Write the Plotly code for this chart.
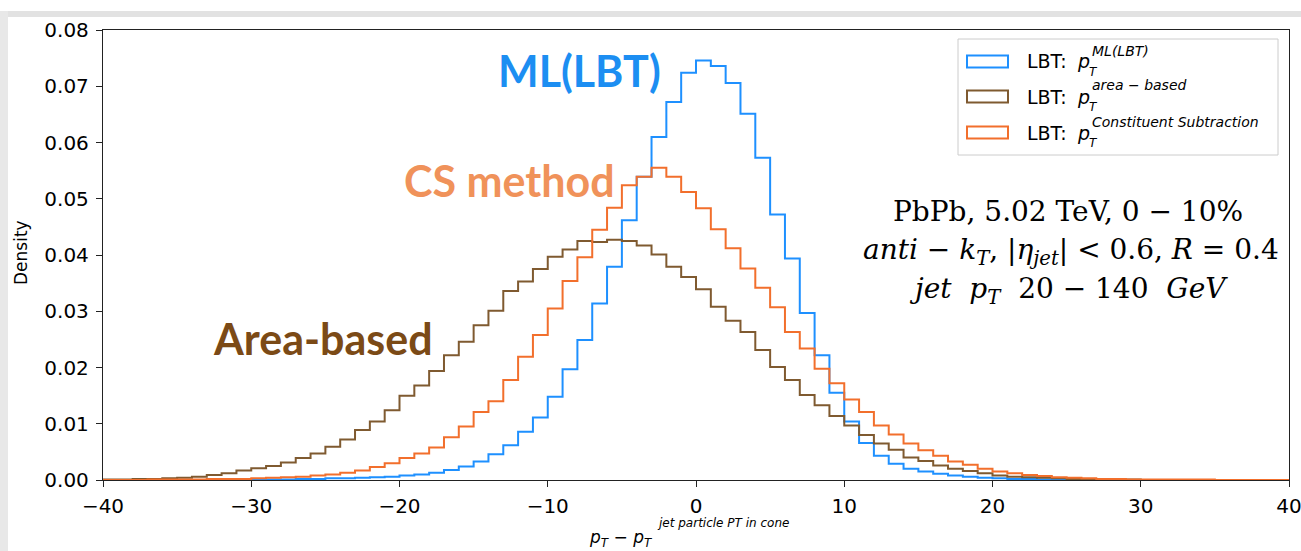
import plotly.graph_objects as go

# ---------------- data (bin width 1, bins from -40 to 40) ----------------
bin_edges = list(range(-40, 41))

ml_lbt = [
    0, 0, 0, 0, 0, 0, 0, 0, 0, 0,
    0.0001, 0.0001, 0.0001, 0.0002, 0.0002, 0.0003, 0.0003, 0.0004, 0.0005, 0.0006,
    0.0008, 0.0010, 0.0013, 0.0018, 0.0024, 0.0033, 0.0046, 0.0062, 0.0086, 0.0111,
    0.0148, 0.0197, 0.0249, 0.0314, 0.0379, 0.0462, 0.0539, 0.0610, 0.0672, 0.0724,
    0.0746, 0.0736, 0.0706, 0.0651, 0.0573, 0.0472, 0.0394, 0.0297, 0.0222, 0.0155,
    0.0104, 0.0066, 0.0043, 0.0029, 0.0020, 0.0015, 0.0011, 0.0008, 0.0006, 0.0004,
    0.0003, 0.0002, 0.0002, 0.0001, 0.0001, 0, 0, 0, 0, 0,
    0, 0, 0, 0, 0, 0, 0, 0, 0, 0,
]

area_based = [
    0.0001, 0.0001, 0.0002, 0.0002, 0.0003, 0.0004, 0.0006, 0.0009, 0.0012, 0.0017,
    0.0021, 0.0025, 0.0031, 0.0039, 0.0047, 0.0059, 0.0072, 0.0089, 0.0104, 0.0124,
    0.0150, 0.0168, 0.0194, 0.0222, 0.0246, 0.0275, 0.0301, 0.0336, 0.0353, 0.0375,
    0.0397, 0.0410, 0.0425, 0.0423, 0.0427, 0.0425, 0.0417, 0.0401, 0.0379, 0.0361,
    0.0339, 0.0308, 0.0283, 0.0263, 0.0231, 0.0201, 0.0178, 0.0151, 0.0133, 0.0114,
    0.0097, 0.0080, 0.0065, 0.0054, 0.0040, 0.0034, 0.0026, 0.0020, 0.0016, 0.0012,
    0.0008, 0.0006, 0.0005, 0.0004, 0.0003, 0.0002, 0.0001, 0.0001, 0.0001, 0.0001,
    0, 0, 0, 0, 0, 0, 0, 0, 0, 0,
]

cs_method = [
    0, 0, 0, 0.0001, 0.0001, 0.0001, 0.0001, 0.0002, 0.0002, 0.0002,
    0.0003, 0.0004, 0.0005, 0.0006, 0.0008, 0.0010, 0.0013, 0.0017, 0.0023, 0.0030,
    0.0039, 0.0047, 0.0058, 0.0076, 0.0095, 0.0121, 0.0140, 0.0178, 0.0219, 0.0258,
    0.0305, 0.0354, 0.0396, 0.0445, 0.0484, 0.0524, 0.0539, 0.0555, 0.0539, 0.0512,
    0.0483, 0.0446, 0.0412, 0.0376, 0.0342, 0.0307, 0.0263, 0.0234, 0.0198, 0.0172,
    0.0143, 0.0121, 0.0097, 0.0081, 0.0065, 0.0053, 0.0043, 0.0033, 0.0027, 0.0020,
    0.0015, 0.0012, 0.0009, 0.0007, 0.0005, 0.0004, 0.0003, 0.0002, 0.0002, 0.0001,
    0.0001, 0.0001, 0.0001, 0.0001, 0.0001, 0, 0, 0, 0, 0,
]

x_ticks = [-40, -30, -20, -10, 0, 10, 20, 30, 40]
y_ticks = [0.00, 0.01, 0.02, 0.03, 0.04, 0.05, 0.06, 0.07, 0.08]

series = [
    ("LBT: ML(LBT)", ml_lbt, "#1E90FF"),
    ("LBT: area-based", area_based, "#7F5A30"),
    ("LBT: Constituent Subtraction", cs_method, "#F26F2C"),
]

# ---------------- layout geometry ----------------
W, H = 1301, 551
ML, MR, MT, MB = 103, 12, 30, 71
PW, PH = W - ML - MR, H - MT - MB


def px(x):
    return (x - ML) / PW


def py(y):
    return (H - MB - y) / PH


fig = go.Figure()
for name, vals, col in series:
    fig.add_trace(go.Scatter(
        x=bin_edges, y=vals + [vals[-1]], mode="lines", name=name,
        line=dict(color=col, width=2, shape="hv"), hoverinfo="skip",
    ))

ann = []
shapes = []

# big coloured labels
big = dict(family="Lato", size=43, weight="bold")
ann.append(dict(x=px(579), y=py(70), text="ML(LBT)", font=dict(**big, color="#1C8EF2")))
ann.append(dict(x=px(510), y=py(180), text="CS method", font=dict(**big, color="#F0925A")))
ann.append(dict(x=px(323), y=py(338), text="Area-based", font=dict(**big, color="#7B4A16")))

# physics info text
serif = dict(family="DejaVu Serif", size=28, color="black")
ann.append(dict(x=px(1068), y=py(211), text="PbPb, 5.02 TeV, 0 − 10%", font=serif))
ann.append(dict(x=px(1071), y=py(252),
                text="<i>anti</i> − <i>k</i><sub><i>T</i></sub>, |<i>η</i><sub><i>jet</i></sub>| &lt; 0.6, <i>R</i> = 0.4",
                font=serif))
ann.append(dict(x=px(1068), y=py(290),
                text="<i>jet</i>&nbsp;&nbsp;<i>p</i><sub><i>T</i></sub>&nbsp;&nbsp;20 − 140&nbsp;&nbsp;<i>GeV</i>",
                font=serif))

# legend (matplotlib-like, with hollow patches)
shapes.append(dict(type="rect", xref="paper", yref="paper", x0=px(958), x1=px(1278), y0=py(155), y1=py(39),
                   line=dict(color="#CCCCCC", width=1), fillcolor="rgba(255,255,255,0.8)", layer="above"))
sups = ["ML(LBT)", "area − based", "Constituent Subtraction"]
centers = [61.5, 96.5, 132.5]
for (name, vals, col), sup, cy in zip(series, sups, centers):
    shapes.append(dict(type="rect", xref="paper", yref="paper", x0=px(967), x1=px(1008),
                       y0=py(cy + 6), y1=py(cy - 6), line=dict(color=col, width=2),
                       fillcolor="rgba(0,0,0,0)", layer="above"))
    lf = dict(family="DejaVu Sans", size=19, color="black")
    ann.append(dict(x=px(1026), y=py(cy), text="LBT:", xanchor="left", font=lf, borderpad=0))
    ann.append(dict(x=px(1076), y=py(cy), text="<i>p</i>", xanchor="left", font=lf, borderpad=0))
    ann.append(dict(x=px(1088), y=py(cy + 10), text="<i>T</i>", xanchor="left", borderpad=0,
                    font=dict(family="DejaVu Sans", size=12, color="black")))
    ann.append(dict(x=px(1091), y=py(cy - 11), text="<i>" + sup + "</i>", xanchor="left", borderpad=0,
                    font=dict(family="DejaVu Sans", size=14, color="black")))

# x-axis title
ann.append(dict(x=px(587), y=py(538), text="<i>p</i><sub><i>T</i></sub> − <i>p</i><sub><i>T</i></sub>",
                xanchor="left", font=dict(family="DejaVu Sans", size=17, color="black")))
ann.append(dict(x=px(655), y=py(523), text="<i>jet particle PT in cone</i>", xanchor="left",
                font=dict(family="DejaVu Sans", size=12, color="black")))

# y-axis title
ann.append(dict(x=px(21), y=py(253), text="Density", textangle=-90,
                font=dict(family="DejaVu Sans", size=17, color="black")))

for a in ann:
    a.setdefault("xref", "paper")
    a.setdefault("yref", "paper")
    a.setdefault("showarrow", False)
    a.setdefault("xanchor", "center")
    a.setdefault("yanchor", "middle")

# slide frame shadow
shapes.append(dict(type="rect", xref="paper", yref="paper", x0=px(0), x1=px(1301), y0=py(17), y1=py(11),
                   line=dict(width=0), fillcolor="#E2E2E2", layer="below"))
shapes.append(dict(type="rect", xref="paper", yref="paper", x0=px(0), x1=px(8), y0=py(551), y1=py(11),
                   line=dict(width=0), fillcolor="#E8E8E8", layer="below"))

fig.update_layout(
    width=W, height=H, margin=dict(l=ML, r=MR, t=MT, b=MB, autoexpand=False),
    plot_bgcolor="white", paper_bgcolor="white", showlegend=False,
    annotations=ann, shapes=shapes,
    font=dict(family="DejaVu Sans", size=20, color="black"),
)
fig.update_xaxes(range=[-40, 40], tickvals=x_ticks, ticks="outside", ticklen=6, tickwidth=1.3,
                 tickcolor="#222", showline=True, linecolor="#222", linewidth=1.3, mirror=True,
                 showgrid=False, zeroline=False, tickfont=dict(size=20), automargin=False,
                 ticklabeloverflow="allow", ticklabelstandoff=2)
fig.update_yaxes(range=[0, 0.08], tickvals=y_ticks, tickformat=".2f", ticks="outside", ticklen=6,
                 tickwidth=1.3, tickcolor="#222", showline=True, linecolor="#222", linewidth=1.3,
                 mirror=True, showgrid=False, zeroline=False, tickfont=dict(size=20),
                 automargin=False, ticklabelstandoff=3)

fig.write_html("out.html")
